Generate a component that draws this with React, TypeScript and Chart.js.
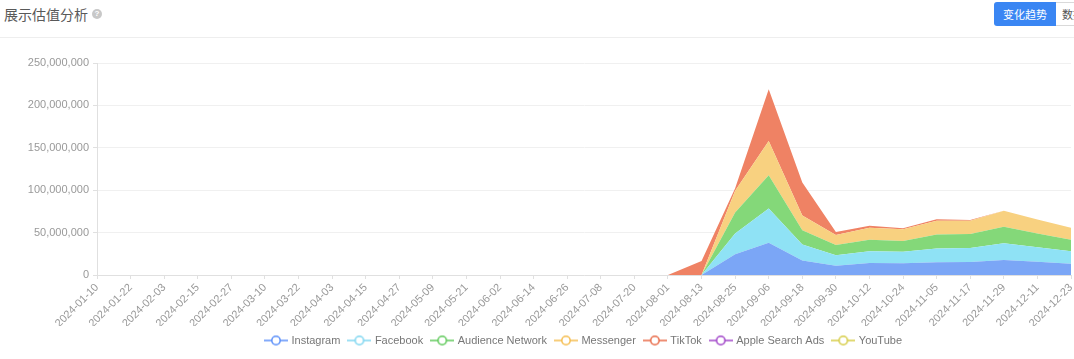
import React, { useEffect, useRef } from "react";
import { Chart, registerables } from "chart.js";

Chart.register(...registerables);

const categories: string[] = [
  "2024-01-10", "2024-01-22", "2024-02-03", "2024-02-15", "2024-02-27",
  "2024-03-10", "2024-03-22", "2024-04-03", "2024-04-15", "2024-04-27",
  "2024-05-09", "2024-05-21", "2024-06-02", "2024-06-14", "2024-06-26",
  "2024-07-08", "2024-07-20", "2024-08-01", "2024-08-13", "2024-08-25",
  "2024-09-06", "2024-09-18", "2024-09-30", "2024-10-12", "2024-10-24",
  "2024-11-05", "2024-11-17", "2024-11-29", "2024-12-11", "2024-12-23",
];

const instagram: number[] = [
  0, 0, 0, 0, 0, 0, 0, 0, 0, 0, 0, 0, 0, 0, 0, 0, 0, 0, 0,
  24500000, 38000000, 17000000, 10800000, 14200000, 13800000, 15000000, 15300000, 17700000, 15500000, 13400000,
];
const facebook: number[] = [
  0, 0, 0, 0, 0, 0, 0, 0, 0, 0, 0, 0, 0, 0, 0, 0, 0, 0, 0,
  24300000, 40400000, 19000000, 12400000, 13900000, 13700000, 16300000, 16500000, 19800000, 17200000, 14500000,
];
const audienceNetwork: number[] = [
  0, 0, 0, 0, 0, 0, 0, 0, 0, 0, 0, 0, 0, 0, 0, 0, 0, 0, 0,
  25000000, 39200000, 16800000, 12200000, 13600000, 12600000, 16600000, 16500000, 19300000, 16300000, 13700000,
];
const messenger: number[] = [
  0, 0, 0, 0, 0, 0, 0, 0, 0, 0, 0, 0, 0, 0, 0, 0, 0, 0, 0,
  25500000, 40400000, 17300000, 11800000, 14100000, 13800000, 16000000, 15700000, 18900000, 16500000, 14200000,
];
const tiktok: number[] = [
  0, 0, 0, 0, 0, 0, 0, 0, 0, 0, 0, 0, 0, 0, 0, 0, 0, 0, 16500000,
  3000000, 61000000, 39000000, 3600000, 2200000, 1200000, 1900000, 900000, 0, 0, 0,
];
const appleSearchAds: number[] = [
  0, 0, 0, 0, 0, 0, 0, 0, 0, 0, 0, 0, 0, 0, 0, 0, 0, 0, 0,
  0, 0, 0, 0, 0, 0, 0, 0, 0, 0, 0,
];
const youtube: number[] = [
  0, 0, 0, 0, 0, 0, 0, 0, 0, 0, 0, 0, 0, 0, 0, 0, 0, 0, 0,
  0, 0, 0, 0, 0, 0, 0, 0, 0, 0, 0,
];

const seriesNames: string[] = [
  "Instagram", "Facebook", "Audience Network", "Messenger", "TikTok", "Apple Search Ads", "YouTube",
];
const seriesValues: number[][] = [instagram, facebook, audienceNetwork, messenger, tiktok, appleSearchAds, youtube];
const lineColors: string[] = ["#5b8ff9", "#7fd6f0", "#5fc95a", "#f5bd4f", "#e86a47", "#a044c8", "#d6cc45"];
const fillColors: string[] = ["#7ba6f6", "#8fe2f5", "#84d879", "#f8d180", "#ef8264", "#b77ad6", "#e3dc7d"];

const yTicks = { min: 0, max: 250000000, step: 50000000 };

function makeIcon(color: string): HTMLCanvasElement {
  const c = document.createElement("canvas");
  c.width = 24;
  c.height = 12;
  const ctx = c.getContext("2d")!;
  ctx.strokeStyle = color;
  ctx.lineWidth = 1.5;
  ctx.beginPath();
  ctx.moveTo(0, 6);
  ctx.lineTo(24, 6);
  ctx.stroke();
  ctx.beginPath();
  ctx.arc(12, 6, 4.2, 0, Math.PI * 2);
  ctx.fillStyle = "#fff";
  ctx.fill();
  ctx.stroke();
  return c;
}

export default function App() {
  const canvasRef = useRef<HTMLCanvasElement | null>(null);

  useEffect(() => {
    if (!canvasRef.current) return;
    const icons = lineColors.map(makeIcon);
    const chart = new Chart(canvasRef.current, {
      type: "line",
      data: {
        labels: categories,
        datasets: seriesNames.map((name, i) => ({
          label: name,
          data: seriesValues[i],
          backgroundColor: fillColors[i],
          borderColor: "transparent",
          borderWidth: 1,
          pointRadius: 0,
          pointHoverRadius: 0,
          tension: 0,
          fill: i === 0 ? "origin" : "-1",
        })),
      },
      options: {
        responsive: false,
        animation: false,
        devicePixelRatio: 1,
        layout: { padding: { top: 23, bottom: 3, left: 0, right: 0 } },
        plugins: {
          tooltip: { enabled: false },
          legend: {
            position: "bottom",
            labels: {
              usePointStyle: true,
              pointStyleWidth: 20,
              padding: 9,
              color: "#777",
              font: { size: 11, family: "'Liberation Sans', Arial, sans-serif" },
              generateLabels: (ch: any) =>
                ch.data.datasets.map((ds: any, i: number) => ({
                  text: ds.label,
                  pointStyle: icons[i],
                  fillStyle: lineColors[i],
                  strokeStyle: lineColors[i],
                  lineWidth: 0,
                  hidden: false,
                  datasetIndex: i,
                  fontColor: "#777",
                })),
            },
          },
        },
        scales: {
          x: {
            ticks: {
              autoSkip: false,
              maxRotation: 45,
              minRotation: 45,
              color: "#999",
              padding: 2,
              font: { size: 11, family: "'Liberation Sans', Arial, sans-serif" },
            },
            grid: { drawOnChartArea: false, tickLength: 4, color: "#e0e0e0" },
            border: { color: "#e0e0e0" },
            afterFit: (s: any) => {
              s.height = 51;
              s.paddingLeft = 0;
              s.paddingRight = 0;
            },
          },
          y: {
            stacked: true,
            min: yTicks.min,
            max: yTicks.max,
            ticks: {
              stepSize: yTicks.step,
              color: "#999",
              padding: 4,
              font: { size: 11, family: "'Liberation Sans', Arial, sans-serif" },
              callback: (v: any) => Number(v).toLocaleString("en-US"),
            },
            grid: { color: "#f0f0f0", tickLength: 4, tickColor: "#e0e0e0" },
            border: { color: "#e0e0e0" },
            afterFit: (s: any) => {
              s.width = 97;
              s.paddingTop = 0;
              s.paddingBottom = 0;
            },
          },
          y2: {
            position: "right",
            display: true,
            grid: { display: false },
            border: { display: false },
            ticks: { display: false },
            afterFit: (s: any) => {
              s.width = 97;
              s.paddingTop = 0;
              s.paddingBottom = 0;
            },
          },
        },
      },
    } as any);
    return () => chart.destroy();
  }, []);

  return (
    <div
      style={{
        position: "relative",
        width: 1074,
        height: 359,
        overflow: "hidden",
        background: "#fff",
        fontFamily: "'Noto Sans CJK SC', 'Liberation Sans', sans-serif",
      }}
    >
      <style>{`body{margin:0;}`}</style>
      <div
        style={{
          position: "absolute",
          left: 4,
          top: 0,
          height: 28,
          lineHeight: "28px",
          fontSize: 14,
          color: "#595959",
          display: "flex",
          alignItems: "center",
        }}
      >
        <span>展示估值分析</span>
        <span
          style={{
            display: "inline-block",
            marginLeft: 4,
            width: 10,
            height: 10,
            borderRadius: "50%",
            background: "#c8c8c8",
            color: "#fff",
            fontSize: 8,
            lineHeight: "10px",
            textAlign: "center",
            fontWeight: "bold",
            fontFamily: "'Liberation Sans', Arial, sans-serif",
          }}
        >
          ?
        </span>
      </div>
      <div
        style={{
          position: "absolute",
          left: 994,
          top: 2,
          width: 62,
          height: 24,
          boxSizing: "border-box",
          background: "#3a86f3",
          color: "#fff",
          fontSize: 11,
          lineHeight: "24px",
          textAlign: "center",
          borderRadius: "3px 0 0 3px",
        }}
      >
        变化趋势
      </div>
      <div
        style={{
          position: "absolute",
          left: 1056,
          top: 2,
          width: 50,
          height: 24,
          boxSizing: "border-box",
          border: "1px solid #d9d9d9",
          borderLeft: "none",
          background: "#fff",
          color: "#555",
          fontSize: 11,
          lineHeight: "22px",
          paddingLeft: 6,
        }}
      >
        数据
      </div>
      <div
        style={{
          position: "absolute",
          left: 0,
          top: 37,
          width: 1074,
          height: 1,
          background: "#eeeeee",
        }}
      />
      <canvas
        ref={canvasRef}
        width={1168}
        height={319}
        style={{ position: "absolute", left: 0, top: 40, width: 1168, height: 319 }}
      />
    </div>
  );
}
